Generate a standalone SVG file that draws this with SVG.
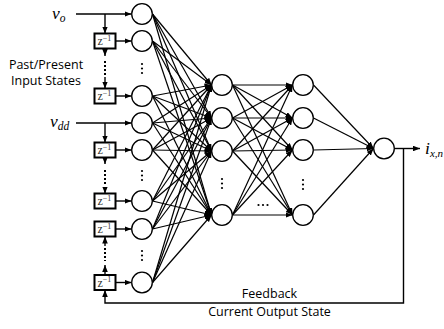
<svg xmlns="http://www.w3.org/2000/svg" width="444" height="329" viewBox="0 0 444 329">
  <style>
    .node { fill: #fff; stroke: #000; stroke-width: 1.3; }
    .delay rect { fill: #fff; stroke: #000; stroke-width: 2; }
    .delay text { font-family: "Liberation Serif", serif; font-size: 12px; fill: #333; }
    .c { stroke: #000; stroke-width: 1.2; fill: none; marker-end: url(#ah); }
    .wa { stroke: #000; stroke-width: 1.4; fill: none; marker-end: url(#ah); }
    .dotted { stroke: #000; stroke-width: 2; stroke-dasharray: 2 2; fill: none; }
    .math { font-family: "Liberation Serif", serif; font-style: italic; font-size: 17.5px; fill: #000; }
    .lbl { font-family: "Open Sans", "Liberation Sans", sans-serif; font-size: 12.5px; fill: #000; }
    .dots circle { fill: #000; }
  </style>
  <defs>
    <marker id="ah" viewBox="0 0 10 8" refX="10" refY="4" markerWidth="7" markerHeight="5.6" markerUnits="userSpaceOnUse" orient="auto">
      <path d="M0,0 L10,4 L0,8 z" fill="#000"/>
    </marker>
  </defs>

  <!-- connectors -->
  <g id="connectors">
    <!-- input signals and delay chain -->
    <line class="wa" x1="76" y1="14" x2="131.5" y2="14"/>
    <line class="wa" x1="105" y1="14" x2="105" y2="33.5"/>
    <line class="wa" x1="105" y1="48.5" x2="105" y2="56"/>
    <line class="dotted" x1="105" y1="61" x2="105" y2="75"/>
    <line class="wa" x1="105" y1="77" x2="105" y2="88.5"/>
    <line class="wa" x1="76" y1="123" x2="131.5" y2="123"/>
    <line class="wa" x1="105" y1="123" x2="105" y2="142.5"/>
    <line class="wa" x1="105" y1="157.5" x2="105" y2="164"/>
    <line class="dotted" x1="105" y1="170" x2="105" y2="185"/>
    <line class="wa" x1="105" y1="187" x2="105" y2="193.5"/>
    <line class="wa" x1="105" y1="274.5" x2="105" y2="265"/>
    <line class="dotted" x1="105" y1="248" x2="105" y2="261"/>
    <line class="wa" x1="105" y1="246" x2="105" y2="236.5"/>
    <!-- delay outputs into input nodes -->
    <line class="wa" x1="115.5" y1="41" x2="131.5" y2="41"/>
    <line class="wa" x1="115.5" y1="96" x2="131.5" y2="96"/>
    <line class="wa" x1="115.5" y1="150" x2="131.5" y2="150"/>
    <line class="wa" x1="115.5" y1="201" x2="131.5" y2="201"/>
    <line class="wa" x1="115.5" y1="229" x2="131.5" y2="229"/>
    <line class="wa" x1="115.5" y1="282.5" x2="131.5" y2="282.5"/>

    <!-- input layer to hidden layer 1 -->
    <line class="c" x1="152.5" y1="14" x2="211.5" y2="85"/>
    <line class="c" x1="152.5" y1="14" x2="211.5" y2="118"/>
    <line class="c" x1="152.5" y1="14" x2="211.5" y2="151"/>
    <line class="c" x1="152.5" y1="14" x2="211.5" y2="215"/>
    <line class="c" x1="152.5" y1="41" x2="211.5" y2="85"/>
    <line class="c" x1="152.5" y1="41" x2="211.5" y2="118"/>
    <line class="c" x1="152.5" y1="41" x2="211.5" y2="151"/>
    <line class="c" x1="152.5" y1="41" x2="211.5" y2="215"/>
    <line class="c" x1="152.5" y1="96" x2="211.5" y2="85"/>
    <line class="c" x1="152.5" y1="96" x2="211.5" y2="118"/>
    <line class="c" x1="152.5" y1="96" x2="211.5" y2="151"/>
    <line class="c" x1="152.5" y1="96" x2="211.5" y2="215"/>
    <line class="c" x1="152.5" y1="123" x2="211.5" y2="85"/>
    <line class="c" x1="152.5" y1="123" x2="211.5" y2="118"/>
    <line class="c" x1="152.5" y1="123" x2="211.5" y2="151"/>
    <line class="c" x1="152.5" y1="123" x2="211.5" y2="215"/>
    <line class="c" x1="152.5" y1="150" x2="211.5" y2="85"/>
    <line class="c" x1="152.5" y1="150" x2="211.5" y2="118"/>
    <line class="c" x1="152.5" y1="150" x2="211.5" y2="151"/>
    <line class="c" x1="152.5" y1="150" x2="211.5" y2="215"/>
    <line class="c" x1="152.5" y1="201" x2="211.5" y2="85"/>
    <line class="c" x1="152.5" y1="201" x2="211.5" y2="118"/>
    <line class="c" x1="152.5" y1="201" x2="211.5" y2="151"/>
    <line class="c" x1="152.5" y1="201" x2="211.5" y2="215"/>
    <line class="c" x1="152.5" y1="229" x2="211.5" y2="85"/>
    <line class="c" x1="152.5" y1="229" x2="211.5" y2="118"/>
    <line class="c" x1="152.5" y1="229" x2="211.5" y2="151"/>
    <line class="c" x1="152.5" y1="229" x2="211.5" y2="215"/>
    <line class="c" x1="152.5" y1="282.5" x2="211.5" y2="85"/>
    <line class="c" x1="152.5" y1="282.5" x2="211.5" y2="118"/>
    <line class="c" x1="152.5" y1="282.5" x2="211.5" y2="151"/>
    <line class="c" x1="152.5" y1="282.5" x2="211.5" y2="215"/>

    <!-- hidden layer 1 to hidden layer 2 -->
    <line class="c" x1="232.5" y1="85" x2="292.5" y2="85"/>
    <line class="c" x1="232.5" y1="85" x2="292.5" y2="118"/>
    <line class="c" x1="232.5" y1="85" x2="292.5" y2="150"/>
    <line class="c" x1="232.5" y1="85" x2="292.5" y2="215"/>
    <line class="c" x1="232.5" y1="118" x2="292.5" y2="85"/>
    <line class="c" x1="232.5" y1="118" x2="292.5" y2="118"/>
    <line class="c" x1="232.5" y1="118" x2="292.5" y2="150"/>
    <line class="c" x1="232.5" y1="118" x2="292.5" y2="215"/>
    <line class="c" x1="232.5" y1="151" x2="292.5" y2="85"/>
    <line class="c" x1="232.5" y1="151" x2="292.5" y2="118"/>
    <line class="c" x1="232.5" y1="151" x2="292.5" y2="150"/>
    <line class="c" x1="232.5" y1="151" x2="292.5" y2="215"/>
    <line class="c" x1="232.5" y1="215" x2="292.5" y2="85"/>
    <line class="c" x1="232.5" y1="215" x2="292.5" y2="118"/>
    <line class="c" x1="232.5" y1="215" x2="292.5" y2="150"/>
    <line class="c" x1="232.5" y1="215" x2="292.5" y2="215"/>

    <!-- hidden layer 2 to output -->
    <line class="c" x1="313.5" y1="85" x2="373.5" y2="148.5"/>
    <line class="c" x1="313.5" y1="118" x2="373.5" y2="148.5"/>
    <line class="c" x1="313.5" y1="150" x2="373.5" y2="148.5"/>
    <line class="c" x1="313.5" y1="215" x2="373.5" y2="148.5"/>

    <!-- output and feedback path -->
    <line class="wa" x1="394" y1="148.5" x2="420" y2="148.5"/>
    <polyline class="wa" points="403.5,148.5 403.5,303 105,303 105,290"/>
  </g>

  <!-- input layer -->
  <g id="in1"><circle class="node" cx="142" cy="14" r="10.3"/></g>
  <g id="in2"><circle class="node" cx="142" cy="41" r="10.3"/></g>
  <g id="in3"><circle class="node" cx="142" cy="96" r="10.3"/></g>
  <g id="in4"><circle class="node" cx="142" cy="123" r="10.3"/></g>
  <g id="in5"><circle class="node" cx="142" cy="150" r="10.3"/></g>
  <g id="in6"><circle class="node" cx="142" cy="201" r="10.3"/></g>
  <g id="in7"><circle class="node" cx="142" cy="229" r="10.3"/></g>
  <g id="in8"><circle class="node" cx="142" cy="282.5" r="10.3"/></g>

  <!-- hidden layer 1 -->
  <g id="h1a"><circle class="node" cx="222" cy="85" r="10.3"/></g>
  <g id="h1b"><circle class="node" cx="222" cy="118" r="10.3"/></g>
  <g id="h1c"><circle class="node" cx="222" cy="151" r="10.3"/></g>
  <g id="h1d"><circle class="node" cx="222" cy="215" r="10.3"/></g>

  <!-- hidden layer 2 -->
  <g id="h2a"><circle class="node" cx="303" cy="85" r="10.3"/></g>
  <g id="h2b"><circle class="node" cx="303" cy="118" r="10.3"/></g>
  <g id="h2c"><circle class="node" cx="303" cy="150" r="10.3"/></g>
  <g id="h2d"><circle class="node" cx="303" cy="215" r="10.3"/></g>

  <!-- output neuron -->
  <g id="out"><circle class="node" cx="384" cy="148.5" r="10.3"/></g>

  <!-- unit delays -->
  <g id="d1" class="delay"><rect x="94.5" y="33.5" width="21" height="15"/><text x="97.5" y="45">z<tspan font-size="8" dy="-4.5">−1</tspan></text></g>
  <g id="d2" class="delay"><rect x="94.5" y="88.5" width="21" height="15"/><text x="97.5" y="100">z<tspan font-size="8" dy="-4.5">−1</tspan></text></g>
  <g id="d3" class="delay"><rect x="94.5" y="142.5" width="21" height="15"/><text x="97.5" y="154">z<tspan font-size="8" dy="-4.5">−1</tspan></text></g>
  <g id="d4" class="delay"><rect x="94.5" y="193.5" width="21" height="15"/><text x="97.5" y="205">z<tspan font-size="8" dy="-4.5">−1</tspan></text></g>
  <g id="d5" class="delay"><rect x="94.5" y="221.5" width="21" height="15"/><text x="97.5" y="233">z<tspan font-size="8" dy="-4.5">−1</tspan></text></g>
  <g id="d6" class="delay"><rect x="94.5" y="275" width="21" height="15"/><text x="97.5" y="286.5">z<tspan font-size="8" dy="-4.5">−1</tspan></text></g>

  <!-- ellipsis marks -->
  <g class="dots">
    <circle cx="142" cy="64" r="1.1"/><circle cx="142" cy="68.5" r="1.1"/><circle cx="142" cy="73" r="1.1"/>
    <circle cx="142" cy="171" r="1.1"/><circle cx="142" cy="175.5" r="1.1"/><circle cx="142" cy="180" r="1.1"/>
    <circle cx="142" cy="251" r="1.1"/><circle cx="142" cy="255.5" r="1.1"/><circle cx="142" cy="260" r="1.1"/>
    <circle cx="222" cy="179" r="1.1"/><circle cx="222" cy="183.5" r="1.1"/><circle cx="222" cy="188" r="1.1"/>
    <circle cx="303" cy="180" r="1.1"/><circle cx="303" cy="184.5" r="1.1"/><circle cx="303" cy="189" r="1.1"/>
    <circle cx="258.5" cy="205" r="1.1"/><circle cx="263" cy="205" r="1.1"/><circle cx="267.5" cy="205" r="1.1"/>
  </g>

  <!-- labels -->
  <text class="math" x="52" y="19">v<tspan font-size="11.5" dy="3">o</tspan></text>
  <text class="math" x="50" y="127">v<tspan font-size="11.5" dy="3">dd</tspan></text>
  <text class="math" x="425" y="154">i<tspan font-size="11" dy="3">x,n</tspan></text>
  <text class="lbl" x="46" y="68.5" text-anchor="middle">Past/Present</text>
  <text class="lbl" x="46" y="85" text-anchor="middle">Input States</text>
  <text class="lbl" x="269.5" y="298" text-anchor="middle">Feedback</text>
  <text class="lbl" x="269.5" y="316" text-anchor="middle">Current Output State</text>
</svg>
